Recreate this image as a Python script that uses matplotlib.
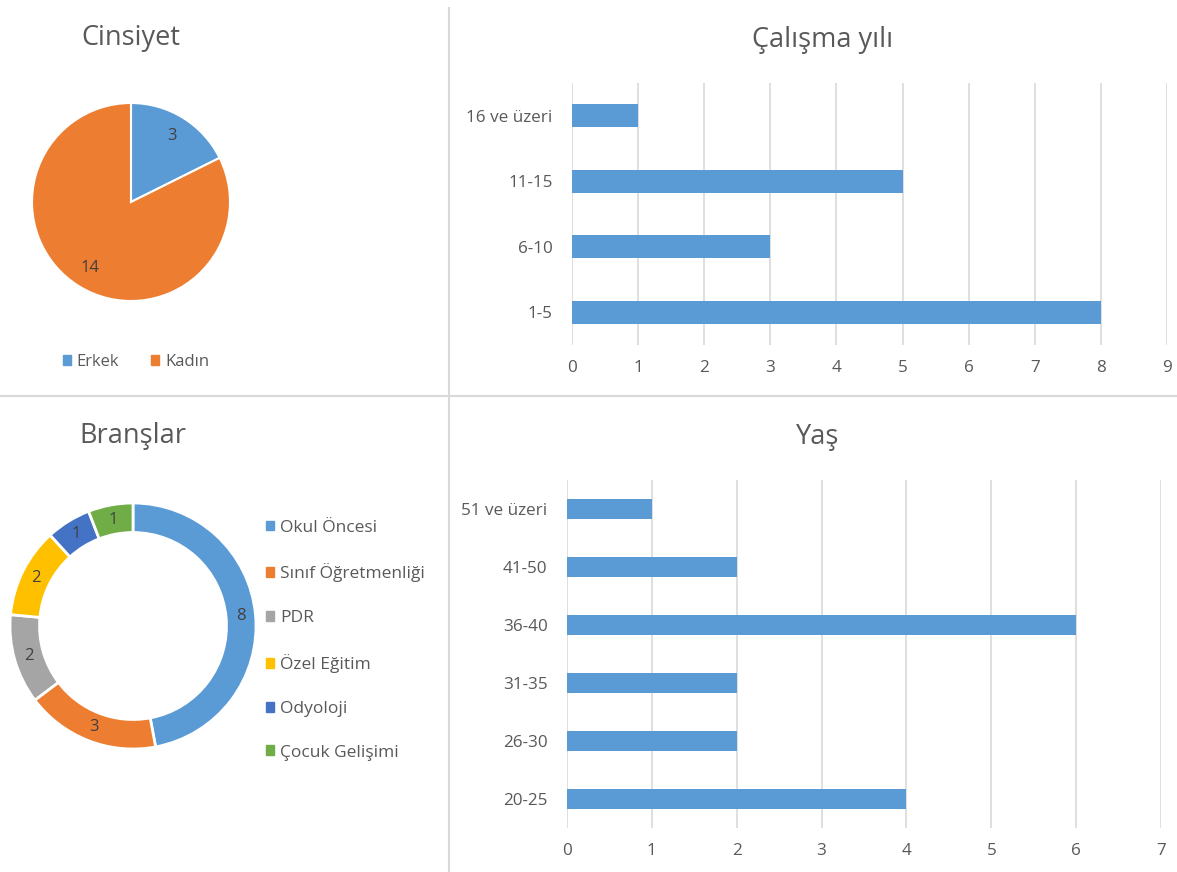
import matplotlib
matplotlib.use("Agg")
import matplotlib.pyplot as plt
from matplotlib.lines import Line2D

plt.rcParams['font.family'] = ['Open Sans', 'DejaVu Sans']

# data
gender_labels = ['Erkek', 'Kadın']
gender_values = [3, 14]

work_years = ['1-5', '6-10', '11-15', '16 ve üzeri']
work_counts = [8, 3, 5, 1]

branch_labels = ['Okul Öncesi', 'Sınıf Öğretmenliği', 'PDR', 'Özel Eğitim',
                 'Odyoloji', 'Çocuk Gelişimi']
branch_values = [8, 3, 2, 2, 1, 1]

age_groups = ['20-25', '26-30', '31-35', '36-40', '41-50', '51 ve üzeri']
age_counts = [4, 2, 2, 6, 2, 1]

W, H = 1177, 872
TXT = '#595959'
GRID = '#D9D9D9'
BLUE = '#5B9BD5'
colors6 = ['#5B9BD5', '#ED7D31', '#A5A5A5', '#FFC000', '#4472C4', '#70AD47']


def box(x0, y0, x1, y1):
    return [x0 / W, 1 - y1 / H, (x1 - x0) / W, (y1 - y0) / H]


fig = plt.figure(figsize=(W / 100, H / 100), dpi=100)

# dividers
fig.add_artist(Line2D([449 / W, 449 / W], [0, 1 - 8 / H], color=GRID, lw=1.5))
fig.add_artist(Line2D([0, 1], [1 - 396 / H, 1 - 396 / H], color=GRID, lw=1.5))

# --- Cinsiyet pie ---
ax1 = fig.add_axes(box(32, 103, 230, 301))
total = sum(gender_values)
ax1.pie(gender_values, colors=colors6[:2], startangle=90, counterclock=False,
        wedgeprops=dict(edgecolor='white', linewidth=1.5),
        autopct=lambda p: '%d' % round(p * total / 100), pctdistance=0.78,
        textprops=dict(color='#404040', fontsize=12))
ax1.set_xlim(-1, 1)
ax1.set_ylim(-1, 1)
fig.text(131 / W, 1 - 38 / H, 'Cinsiyet', ha='center', va='center',
         fontsize=19.5, color=TXT)
h1 = [plt.Rectangle((0, 0), 1, 1, color=c) for c in colors6[:2]]
fig.legend(h1, gender_labels, loc='center', bbox_to_anchor=(136 / W, 1 - 362 / H),
           ncol=2, frameon=False, fontsize=12, labelcolor=TXT,
           handlelength=0.5, handleheight=0.5, handletextpad=0.35, columnspacing=1.9)

# --- Branşlar donut ---
ax3 = fig.add_axes(box(10, 503, 256, 749))
btotal = sum(branch_values)
ax3.pie(branch_values, colors=colors6, startangle=90, counterclock=False,
        wedgeprops=dict(width=0.24, edgecolor='white', linewidth=2),
        autopct=lambda p: '%d' % round(p * btotal / 100), pctdistance=0.88,
        textprops=dict(color='#404040', fontsize=12))
ax3.set_xlim(-1, 1)
ax3.set_ylim(-1, 1)
fig.text(133 / W, 1 - 436 / H, 'Branşlar', ha='center', va='center',
         fontsize=19.5, color=TXT)
h3 = [plt.Rectangle((0, 0), 1, 1, color=c) for c in colors6]
fig.legend(h3, branch_labels, loc='upper left', bbox_to_anchor=(257 / W, 1 - 511 / H),
           frameon=False, fontsize=12.5, labelcolor=TXT, labelspacing=1.6,
           handlelength=0.5, handleheight=0.5, handletextpad=0.35, borderpad=0)


def style_bar(ax, xmax):
    ax.set_xlim(0, xmax)
    ax.set_xticks(range(xmax + 1))
    for s in ax.spines.values():
        s.set_visible(False)
    ax.grid(axis='x', color=GRID, lw=1.2)
    ax.set_axisbelow(True)
    ax.tick_params(length=0, labelsize=12.3, colors=TXT)
    ax.tick_params(axis='y', pad=14)
    ax.tick_params(axis='x', pad=11)


# --- Çalışma yılı ---
ax2 = fig.add_axes(box(572, 83, 1167, 345))
ax2.barh(work_years, work_counts, height=0.355, color=BLUE)
ax2.set_ylim(-0.5, len(work_years) - 0.5)
style_bar(ax2, 9)
fig.text(823 / W, 1 - 40 / H, 'Çalışma yılı', ha='center', va='center',
         fontsize=19.5, color=TXT)

# --- Yaş ---
ax4 = fig.add_axes(box(567, 480, 1161, 828))
ax4.barh(age_groups, age_counts, height=0.345, color=BLUE)
ax4.set_ylim(-0.5, len(age_groups) - 0.5)
style_bar(ax4, 7)
fig.text(818 / W, 1 - 437 / H, 'Yaş', ha='center', va='center',
         fontsize=19.5, color=TXT)

fig.savefig('out.png', dpi=100, facecolor='white')
